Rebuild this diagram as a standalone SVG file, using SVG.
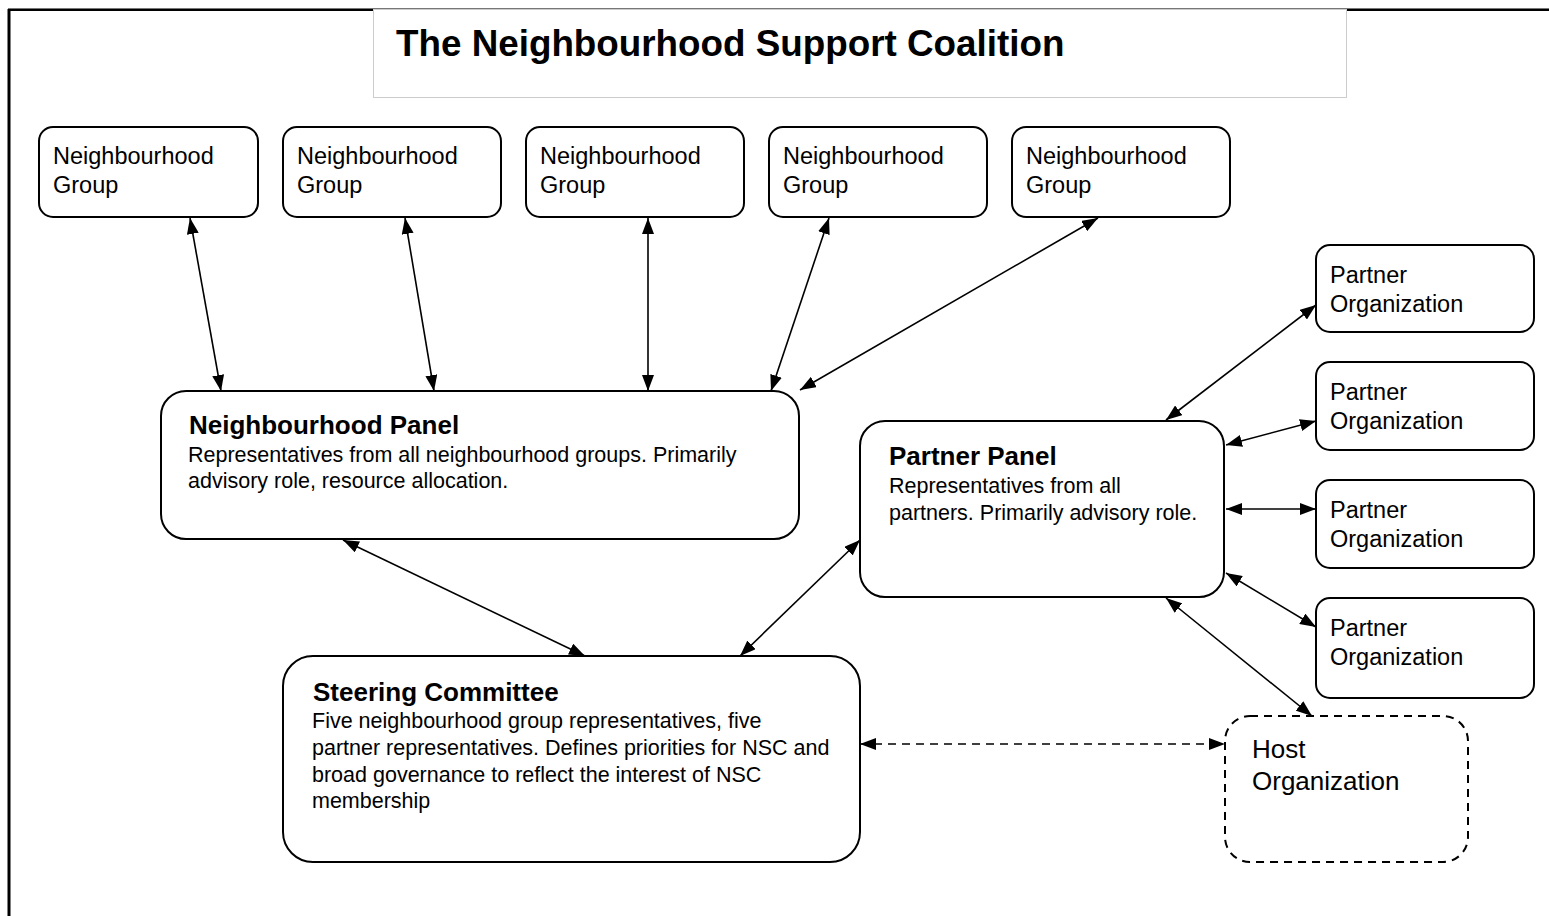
<svg xmlns="http://www.w3.org/2000/svg" width="1549" height="916" viewBox="0 0 1549 916">
<style>
text{font-family:"Liberation Sans",Arial,sans-serif;fill:#000}
.box{fill:#fff;stroke:#000;stroke-width:2}
.dash{fill:#fff;stroke:#000;stroke-width:2;stroke-dasharray:8,6}
.sm{font-size:23.5px}
.ttl{font-size:26px;font-weight:bold}
.body{font-size:21.5px}
.con{stroke:#000;stroke-width:1.6;fill:none;marker-start:url(#ah);marker-end:url(#ah)}
.cond{stroke:#000;stroke-width:1.6;fill:none;stroke-dasharray:8,6;marker-start:url(#ah);marker-end:url(#ah)}
</style>
<defs>
<marker id="ah" markerUnits="userSpaceOnUse" markerWidth="16" markerHeight="12" viewBox="0 0 16 12" refX="16" refY="6" orient="auto-start-reverse">
<path d="M0,0 L16,6 L0,12 z" fill="#000"/>
</marker>
</defs>
<rect width="1549" height="916" fill="#fff"/>
<g id="frame">
<line x1="8" y1="8.5" x2="1549" y2="8.5" stroke="#777" stroke-width="1"/>
<line x1="8" y1="10" x2="1549" y2="10" stroke="#000" stroke-width="2"/>
<line x1="9" y1="9" x2="9" y2="916" stroke="#000" stroke-width="3"/>
</g>
<g id="title">
<rect x="373.5" y="9.5" width="973" height="88" fill="#fff" stroke="#ccc" stroke-width="1"/>
<text x="396" y="56" style="font-size:36.8px;font-weight:bold">The Neighbourhood Support Coalition</text>
</g>
<g id="connectors">
<line class="con" x1="190" y1="218" x2="221" y2="391"/>
<line class="con" x1="405" y1="218" x2="434" y2="391"/>
<line class="con" x1="648" y1="218" x2="648" y2="391"/>
<line class="con" x1="829" y1="218" x2="771" y2="391"/>
<line class="con" x1="1098" y1="218" x2="800" y2="390"/>
<line class="con" x1="343" y1="540" x2="585" y2="656"/>
<line class="con" x1="860" y1="540" x2="740" y2="656"/>
<line class="con" x1="1166" y1="420" x2="1316" y2="305"/>
<line class="con" x1="1226" y1="445" x2="1316" y2="421"/>
<line class="con" x1="1226" y1="509" x2="1316" y2="509"/>
<line class="con" x1="1226" y1="573" x2="1316" y2="627"/>
<line class="con" x1="1166" y1="598" x2="1312" y2="716"/>
<line class="cond" x1="860" y1="744" x2="1225" y2="744"/>
</g>
<g id="ng1"><rect class="box" x="39" y="127" width="219" height="90" rx="14"/><text class="sm" x="53" y="164">Neighbourhood</text><text class="sm" x="53" y="193">Group</text></g>
<g id="ng2"><rect class="box" x="283" y="127" width="218" height="90" rx="14"/><text class="sm" x="297" y="164">Neighbourhood</text><text class="sm" x="297" y="193">Group</text></g>
<g id="ng3"><rect class="box" x="526" y="127" width="218" height="90" rx="14"/><text class="sm" x="540" y="164">Neighbourhood</text><text class="sm" x="540" y="193">Group</text></g>
<g id="ng4"><rect class="box" x="769" y="127" width="218" height="90" rx="14"/><text class="sm" x="783" y="164">Neighbourhood</text><text class="sm" x="783" y="193">Group</text></g>
<g id="ng5"><rect class="box" x="1012" y="127" width="218" height="90" rx="14"/><text class="sm" x="1026" y="164">Neighbourhood</text><text class="sm" x="1026" y="193">Group</text></g>
<g id="np"><rect class="box" x="161" y="391" width="638" height="148" rx="25"/>
<text class="ttl" x="189" y="434">Neighbourhood Panel</text>
<text class="body" x="188" y="462">Representatives from all neighbourhood groups. Primarily</text>
<text class="body" x="188" y="488">advisory role, resource allocation.</text></g>
<g id="pp"><rect class="box" x="860" y="421" width="364" height="176" rx="25"/>
<text class="ttl" x="889" y="465">Partner Panel</text>
<text class="body" x="889" y="493">Representatives from all</text>
<text class="body" x="889" y="520">partners. Primarily advisory role.</text></g>
<g id="sc"><rect class="box" x="283" y="656" width="577" height="206" rx="30"/>
<text class="ttl" x="313" y="701">Steering Committee</text>
<text class="body" x="312" y="728">Five neighbourhood group representatives, five</text>
<text class="body" x="312" y="755">partner representatives. Defines priorities for NSC and</text>
<text class="body" x="312" y="782">broad governance to reflect the interest of NSC</text>
<text class="body" x="312" y="808">membership</text></g>
<g id="po1"><rect class="box" x="1316" y="245" width="218" height="87" rx="14"/><text class="sm" x="1330" y="283">Partner</text><text class="sm" x="1330" y="312">Organization</text></g>
<g id="po2"><rect class="box" x="1316" y="362" width="218" height="88" rx="14"/><text class="sm" x="1330" y="400">Partner</text><text class="sm" x="1330" y="429">Organization</text></g>
<g id="po3"><rect class="box" x="1316" y="480" width="218" height="88" rx="14"/><text class="sm" x="1330" y="518">Partner</text><text class="sm" x="1330" y="547">Organization</text></g>
<g id="po4"><rect class="box" x="1316" y="598" width="218" height="100" rx="14"/><text class="sm" x="1330" y="636">Partner</text><text class="sm" x="1330" y="665">Organization</text></g>
<g id="host"><rect class="dash" x="1225" y="716" width="243" height="146" rx="25"/>
<text x="1252" y="758" style="font-size:26px">Host</text>
<text x="1252" y="790" style="font-size:26px">Organization</text></g>
</svg>
